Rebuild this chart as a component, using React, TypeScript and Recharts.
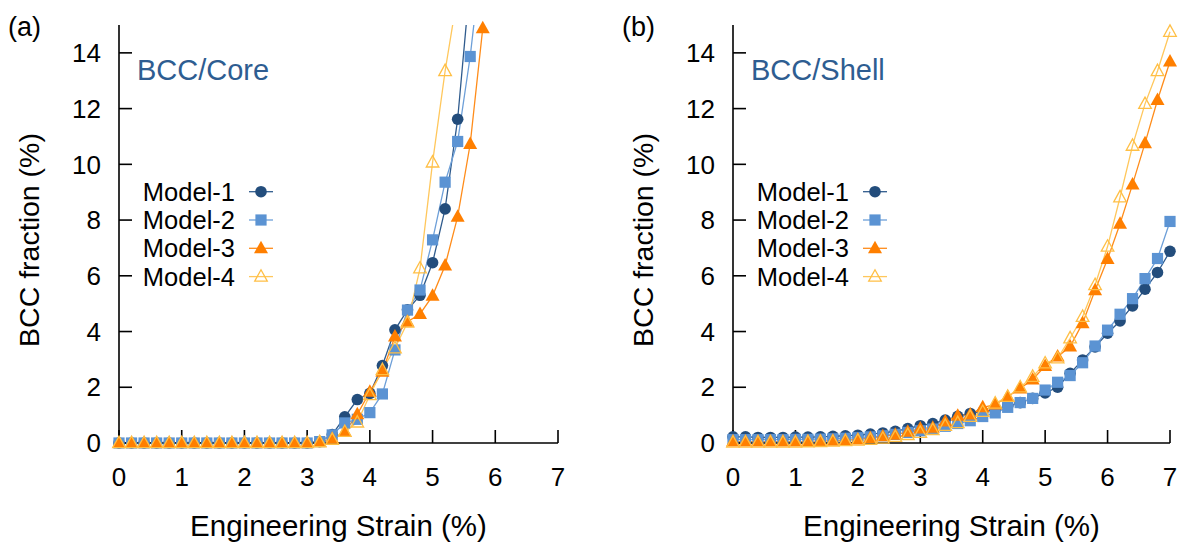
import React from 'react';
import { LineChart, Line, XAxis, YAxis, Legend } from 'recharts';

// engineering strain (%) sampled every 0.2
const strain = [
  0, 0.2, 0.4, 0.6, 0.8, 1, 1.2, 1.4, 1.6, 1.8, 2, 2.2, 2.4, 2.6, 2.8, 3, 3.2, 3.4,
  3.6, 3.8, 4, 4.2, 4.4, 4.6, 4.8, 5, 5.2, 5.4, 5.6, 5.8, 6, 6.2, 6.4, 6.6, 6.8, 7,
];
const xTicks = [0, 1, 2, 3, 4, 5, 6, 7];
const yTicks = [0, 2, 4, 6, 8, 10, 12, 14];
const modelNames = ['Model-1', 'Model-2', 'Model-3', 'Model-4'];

// (a) BCC/Core
const coreModel1 = [
  0, 0, 0, 0, 0, 0, 0, 0, 0, 0, 0, 0, 0, 0, 0, 0,
  0.05, 0.3, 0.94, 1.56, 1.78, 2.78, 4.06, 4.78, 5.3, 6.47, 8.4, 11.62, 16.6,
  null, null, null, null, null, null, null,
];
const coreModel2 = [
  0, 0, 0, 0, 0, 0, 0, 0, 0, 0, 0, 0, 0, 0, 0, 0,
  0.05, 0.29, 0.72, 0.85, 1.09, 1.76, 3.34, 4.77, 5.49, 7.29, 9.36, 10.82, 13.87, 17.8,
  null, null, null, null, null, null,
];
const coreModel3 = [
  0, 0, 0, 0, 0, 0, 0, 0, 0, 0, 0, 0, 0, 0, 0, 0,
  0.04, 0.15, 0.4, 1.03, 1.84, 2.56, 3.82, 4.35, 4.63, 5.28, 6.37, 8.12, 10.73, 14.88, 19.5,
  null, null, null, null, null,
];
const coreModel4 = [
  0, 0, 0, 0, 0, 0, 0, 0, 0, 0, 0, 0, 0, 0, 0, 0,
  0.03, 0.12, 0.4, 0.74, 1.72, 2.62, 3.4, 4.32, 6.27, 10.07, 13.35, 16.1,
  null, null, null, null, null, null, null, null,
];

// (b) BCC/Shell
const shellModel1 = [
  0.22, 0.22, 0.2, 0.2, 0.2, 0.21, 0.21, 0.22, 0.24, 0.26, 0.28, 0.32, 0.36, 0.42, 0.52, 0.62,
  0.7, 0.82, 0.96, 1.06, 1.12, 1.2, 1.32, 1.45, 1.6, 1.8, 2.0, 2.5, 2.98, 3.45, 3.94, 4.38,
  4.92, 5.52, 6.12, 6.88,
];
const shellModel2 = [
  0.12, 0.12, 0.12, 0.12, 0.12, 0.13, 0.13, 0.14, 0.15, 0.17, 0.19, 0.22, 0.26, 0.31, 0.38, 0.44,
  0.5, 0.6, 0.7, 0.8, 0.95, 1.08, 1.28, 1.45, 1.6, 1.9, 2.18, 2.42, 2.88, 3.48, 4.05, 4.62,
  5.18, 5.9, 6.62, 7.95,
];
const shellModel3 = [
  0.05, 0.05, 0.05, 0.05, 0.05, 0.05, 0.06, 0.07, 0.08, 0.1, 0.13, 0.18, 0.24, 0.3, 0.4, 0.52,
  0.55, 0.77, 0.98, 1.02, 1.28, 1.38, 1.66, 1.96, 2.28, 2.76, 3.1, 3.46, 4.3, 5.48, 6.6, 7.87,
  9.28, 10.76, 12.31, 13.69,
];
const shellModel4 = [
  0.02, 0.02, 0.02, 0.02, 0.02, 0.02, 0.03, 0.04, 0.05, 0.07, 0.09, 0.12, 0.16, 0.22, 0.29, 0.37,
  0.47, 0.62, 0.72, 0.94, 1.12, 1.42, 1.66, 2.0, 2.38, 2.86, 3.04, 3.76, 4.53, 5.67, 7.05, 8.82,
  10.67, 12.17, 13.35, 14.76,
];

const FONT = '"Liberation Sans", Arial, Helvetica, sans-serif';
const Y_MAX = 15;

type Shape = 'circle' | 'square' | 'triangle' | 'triangleOpen';
const styles: { shape: Shape; mark: string; line: string }[] = [
  { shape: 'circle', mark: '#234d7c', line: '#2f5b8d' },
  { shape: 'square', mark: '#5b93d3', line: '#6d9fd8' },
  { shape: 'triangle', mark: '#ff7f00', line: '#ff8c1a' },
  { shape: 'triangleOpen', mark: '#ffbf45', line: '#ffc75c' },
];

function Marker({ cx, cy, shape, color }: { cx: number; cy: number; shape: Shape; color: string }) {
  if (cx == null || cy == null || Number.isNaN(cx) || Number.isNaN(cy)) return null;
  switch (shape) {
    case 'circle':
      return <circle cx={cx} cy={cy} r={5.8} fill={color} />;
    case 'square':
      return <rect x={cx - 5.6} y={cy - 5.6} width={11.2} height={11.2} fill={color} />;
    case 'triangle':
      return <polygon points={`${cx},${cy - 7.5} ${cx - 7},${cy + 5} ${cx + 7},${cy + 5}`} fill={color} />;
    default:
      return (
        <polygon
          points={`${cx},${cy - 6.8} ${cx - 6.3},${cy + 4.6} ${cx + 6.3},${cy + 4.6}`}
          fill="none"
          stroke={color}
          strokeWidth={1.3}
        />
      );
  }
}

function LegendBox() {
  return (
    <svg width={300} height={300} style={{ overflow: 'visible' }}>
      {modelNames.map((name, i) => {
        const y = 191.7 + i * 28.3;
        const s = styles[i];
        return (
          <g key={name}>
            <text x={235} y={y} textAnchor="end" dominantBaseline="central" fontSize={25.5} fontFamily={FONT} fill="#000">
              {name}
            </text>
            <line x1={249} x2={273} y1={y} y2={y} stroke={s.line} strokeWidth={1.3} />
            <Marker cx={261} cy={y} shape={s.shape} color={s.mark} />
          </g>
        );
      })}
    </svg>
  );
}

interface PanelProps {
  left: number;
  width: number;
  plotRight: number;
  letter: string;
  title: string;
  series: (number | null)[][];
}

function Panel({ left, width, plotRight, letter, title, series }: PanelProps) {
  const rows = strain.map((x, i) => {
    const row: Record<string, number | null> = { x };
    series.forEach((s, k) => {
      row[`m${k}`] = s[i];
      // markers above the frame are dropped so they are not drawn on the clip-free axis
      row[`d${k}`] = s[i] != null && (s[i] as number) <= Y_MAX ? s[i] : null;
    });
    return row;
  });

  const axisStroke = { stroke: '#000', strokeWidth: 1.6 };
  const tickFont = { fill: '#000', fontSize: 26, fontFamily: FONT };
  const plotLeft = 119;
  const plotTop = 25;
  const plotBottom = 443;
  const height = 542;

  return (
    <div style={{ position: 'absolute', left, top: 0, width, height }}>
      <LineChart
        width={width}
        height={height}
        data={rows}
        margin={{ top: plotTop, left: plotLeft - 60, right: width - plotRight, bottom: height - plotBottom - 40 }}
      >
        <XAxis
          xAxisId="b"
          dataKey="x"
          type="number"
          domain={[0, 7]}
          ticks={xTicks}
          interval={0}
          height={40}
          tickSize={-13}
          tickMargin={38}
          axisLine={axisStroke}
          tickLine={axisStroke}
          tick={tickFont}
        />
        <XAxis
          xAxisId="t"
          orientation="top"
          dataKey="x"
          type="number"
          domain={[0, 7]}
          ticks={xTicks}
          interval={0}
          height={0}
          tickSize={-13}
          axisLine={axisStroke}
          tickLine={axisStroke}
          tick={false}
        />
        <YAxis
          yAxisId="clip"
          type="number"
          domain={[0, Y_MAX]}
          ticks={yTicks}
          interval={0}
          allowDataOverflow
          width={60}
          tickSize={-13}
          tickMargin={31}
          axisLine={axisStroke}
          tickLine={axisStroke}
          tick={tickFont}
        />
        <YAxis yAxisId="free" type="number" domain={[0, Y_MAX]} hide />
        <YAxis
          yAxisId="r"
          orientation="right"
          type="number"
          domain={[0, Y_MAX]}
          ticks={yTicks}
          interval={0}
          width={0}
          tickSize={-13}
          axisLine={axisStroke}
          tickLine={axisStroke}
          tick={false}
        />
        {series.map((_, k) => [
          <Line
            key={`l${k}`}
            xAxisId="b"
            yAxisId="clip"
            dataKey={`m${k}`}
            type="linear"
            stroke={styles[k].line}
            strokeWidth={1.3}
            dot={false}
            activeDot={false}
            legendType="none"
            isAnimationActive={false}
          />,
          <Line
            key={`d${k}`}
            xAxisId="b"
            yAxisId="free"
            dataKey={`d${k}`}
            stroke="none"
            dot={(p: any) => (
              <Marker key={`mk${k}-${p.index}`} cx={p.cx} cy={p.cy} shape={styles[k].shape} color={styles[k].mark} />
            )}
            activeDot={false}
            legendType="none"
            isAnimationActive={false}
          />,
        ])}
        <Legend
          layout="vertical"
          align="center"
          verticalAlign="middle"
          content={() => <LegendBox />}
          wrapperStyle={{ left: 0, top: 0, width: 300, height: 300 }}
        />
      </LineChart>
      <svg
        width={width}
        height={height}
        style={{ position: 'absolute', left: 0, top: 0, pointerEvents: 'none', overflow: 'visible' }}
        fontFamily={FONT}
      >
        <text x={8} y={36} fontSize={27} fill="#000">{letter}</text>
        <text x={137} y={80} fontSize={29} fill="#2e5d91">{title}</text>
        <text x={29} y={240} fontSize={28.5} fill="#000" textAnchor="middle" dominantBaseline="central" transform="rotate(-90 29 240)">
          BCC fraction (%)
        </text>
        <text x={(plotLeft + plotRight) / 2} y={536} fontSize={29.5} fill="#000" textAnchor="middle">
          Engineering Strain (%)
        </text>
      </svg>
    </div>
  );
}

export default function App() {
  return (
    <div style={{ position: 'absolute', left: 0, top: 0, width: 1182, height: 542, overflow: 'hidden', background: '#fff' }}>
      <Panel left={0} width={600} plotRight={558} letter="(a)" title="BCC/Core" series={[coreModel1, coreModel2, coreModel3, coreModel4]} />
      <Panel left={614} width={568} plotRight={556} letter="(b)" title="BCC/Shell" series={[shellModel1, shellModel2, shellModel3, shellModel4]} />
    </div>
  );
}
